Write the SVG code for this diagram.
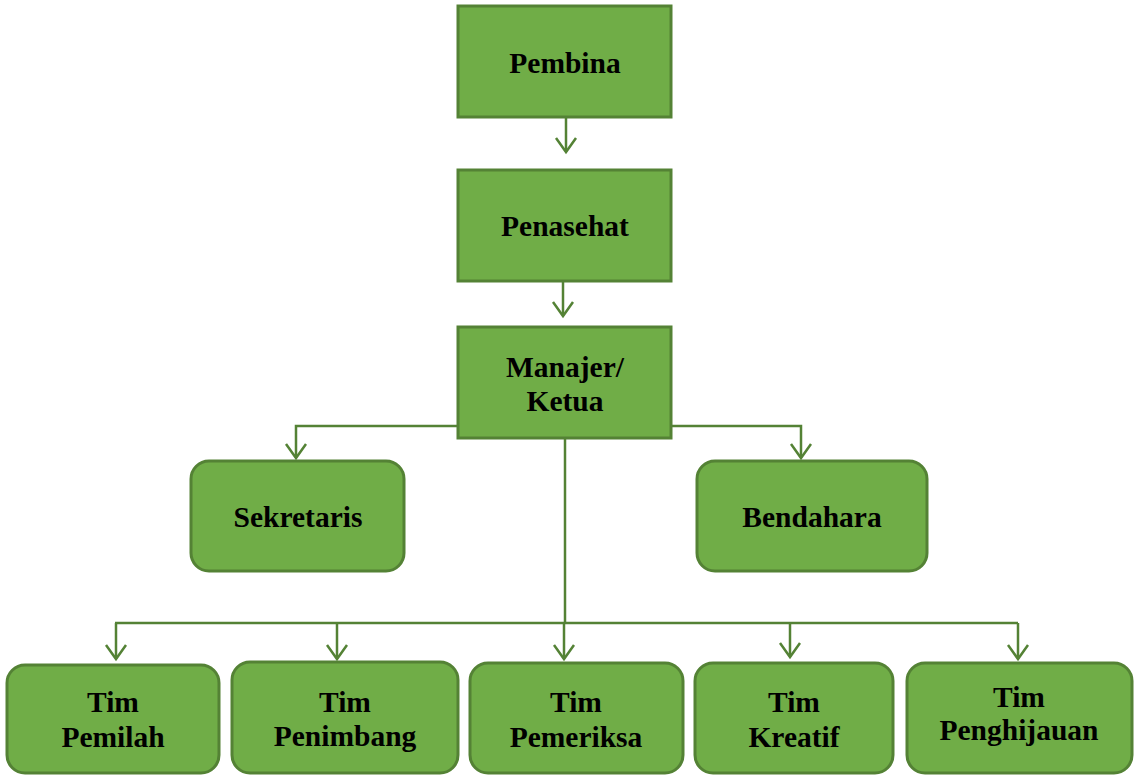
<svg xmlns="http://www.w3.org/2000/svg" width="1137" height="776" viewBox="0 0 1137 776">
<style>
.box{fill:#70AD47;stroke:#548235;stroke-width:3}
.t{font-family:"Liberation Serif","Times New Roman",serif;font-weight:bold;font-size:29.5px;fill:#000;text-anchor:middle}
.ln{fill:none;stroke:#548235;stroke-width:2.5}
</style>
<defs>
<marker id="ah" markerUnits="userSpaceOnUse" markerWidth="18" markerHeight="26" viewBox="-16 -13 18 26" refX="0" refY="0" orient="auto" overflow="visible">
<path d="M-14,-10 L0,0 L-14,10" fill="none" stroke="#548235" stroke-width="2.5"/>
</marker>
</defs>
<rect width="1137" height="776" fill="#fff"/>
<g id="connectors">
<line class="ln" x1="566" y1="118" x2="566" y2="152" marker-end="url(#ah)"/>
<line class="ln" x1="563" y1="282" x2="563" y2="316" marker-end="url(#ah)"/>
<polyline class="ln" points="458,426 296,426 296,458" marker-end="url(#ah)"/>
<polyline class="ln" points="671,426 801,426 801,458" marker-end="url(#ah)"/>
<line class="ln" x1="565" y1="439" x2="565" y2="623"/>
<line class="ln" x1="115" y1="623" x2="1018" y2="623"/>
<line class="ln" x1="116" y1="623" x2="116" y2="659" marker-end="url(#ah)"/>
<line class="ln" x1="337" y1="623" x2="337" y2="659" marker-end="url(#ah)"/>
<line class="ln" x1="564" y1="623" x2="564" y2="659" marker-end="url(#ah)"/>
<line class="ln" x1="790" y1="623" x2="790" y2="657" marker-end="url(#ah)"/>
<line class="ln" x1="1018" y1="623" x2="1018" y2="659" marker-end="url(#ah)"/>
</g>
<g id="pembina"><rect class="box" x="458" y="6" width="213" height="111"/><text class="t" x="565" y="73">Pembina</text></g>
<g id="penasehat"><rect class="box" x="458" y="170" width="213" height="111"/><text class="t" x="565" y="236">Penasehat</text></g>
<g id="manajer"><rect class="box" x="458" y="327" width="213" height="111"/><text class="t" x="565" y="377">Manajer/</text><text class="t" x="565" y="411">Ketua</text></g>
<g id="sekretaris"><rect class="box" x="191" y="461" width="213" height="110" rx="18"/><text class="t" x="298" y="527">Sekretaris</text></g>
<g id="bendahara"><rect class="box" x="697" y="461" width="230" height="110" rx="18"/><text class="t" x="812" y="527">Bendahara</text></g>
<g id="tim-pemilah"><rect class="box" x="7" y="665" width="212" height="108" rx="18"/><text class="t" x="113" y="712">Tim</text><text class="t" x="113" y="747">Pemilah</text></g>
<g id="tim-penimbang"><rect class="box" x="232" y="662" width="226" height="111" rx="18"/><text class="t" x="345" y="712">Tim</text><text class="t" x="345" y="746">Penimbang</text></g>
<g id="tim-pemeriksa"><rect class="box" x="470" y="663" width="213" height="110" rx="18"/><text class="t" x="576" y="712">Tim</text><text class="t" x="576" y="747">Pemeriksa</text></g>
<g id="tim-kreatif"><rect class="box" x="695" y="663" width="198" height="110" rx="18"/><text class="t" x="794" y="712">Tim</text><text class="t" x="794" y="747">Kreatif</text></g>
<g id="tim-penghijauan"><rect class="box" x="907" y="663" width="225" height="110" rx="18"/><text class="t" x="1019" y="707">Tim</text><text class="t" x="1019" y="740">Penghijauan</text></g>
</svg>
